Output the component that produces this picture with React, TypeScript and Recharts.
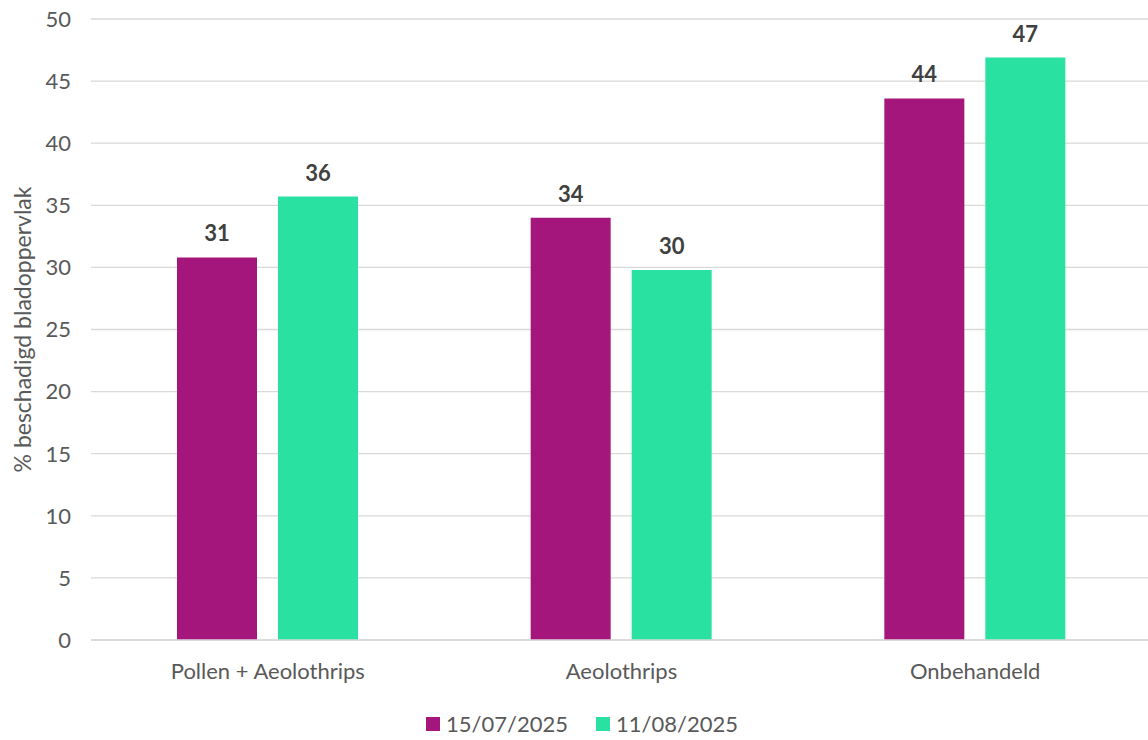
import { Bar, BarChart, CartesianGrid, LabelList, Legend, XAxis, YAxis } from "recharts";

const categories = ["Pollen + Aeolothrips", "Aeolothrips", "Onbehandeld"];
const july = [30.8, 34.0, 43.6];
const august = [35.7, 29.8, 46.9];
const seriesNames = ["15/07/2025", "11/08/2025"];
const yTicks = [0, 5, 10, 15, 20, 25, 30, 35, 40, 45, 50];

const data = categories.map((name, i) => ({ name, july: july[i], august: august[i] }));

const FONT = "Lato, 'Open Sans', sans-serif";
const colors = ["#A5167C", "#29E2A1"];

function LegendContent() {
  return (
    <div style={{ display: "flex", justifyContent: "center", gap: 28, fontFamily: FONT, fontSize: 22, color: "#595959", paddingTop: 10, paddingLeft: 12 }}>
      {seriesNames.map((s, i) => (
        <div key={s} style={{ display: "flex", alignItems: "center", gap: 6 }}>
          <span style={{ width: 14, height: 14, background: colors[i], display: "inline-block" }} />
          <span>{s}</span>
        </div>
      ))}
    </div>
  );
}

export default function App() {
  return (
    <div>
      <style>{"body{margin:0}"}</style>
      <BarChart width={1148} height={740} data={data} margin={{ top: 19, right: -4, left: 0, bottom: 0 }} barGap={21} barSize={80}>
        <CartesianGrid vertical={false} stroke="#d9d9d9" strokeWidth={1.3} />
        <XAxis
          dataKey="name"
          tickLine={false}
          axisLine={{ stroke: "#d9d9d9", strokeWidth: 1.3 }}
          tick={{ fill: "#595959", fontSize: 22, fontFamily: FONT }}
          tickMargin={17}
          height={60}
        />
        <YAxis
          width={91}
          domain={[0, 50]}
          ticks={yTicks}
          tickLine={false}
          axisLine={false}
          tick={{ fill: "#595959", fontSize: 22, fontFamily: FONT }}
          tickMargin={14}
          label={{
            value: "% beschadigd bladoppervlak",
            angle: -90,
            position: "center",
            dx: -23,
            style: { fill: "#595959", fontSize: 23, fontFamily: FONT, textAnchor: "middle" },
          }}
        />
        <Legend verticalAlign="bottom" height={40} content={<LegendContent />} />
        <Bar dataKey="july" name={seriesNames[0]} fill={colors[0]} isAnimationActive={false}>
          <LabelList
            dataKey="july"
            position="top"
            offset={16}
            formatter={(v: number) => Math.round(v)}
            style={{ fill: "#404040", fontSize: 22, fontWeight: 700, fontFamily: FONT }}
          />
        </Bar>
        <Bar dataKey="august" name={seriesNames[1]} fill={colors[1]} isAnimationActive={false}>
          <LabelList
            dataKey="august"
            position="top"
            offset={16}
            formatter={(v: number) => Math.round(v)}
            style={{ fill: "#404040", fontSize: 22, fontWeight: 700, fontFamily: FONT }}
          />
        </Bar>
      </BarChart>
    </div>
  );
}
